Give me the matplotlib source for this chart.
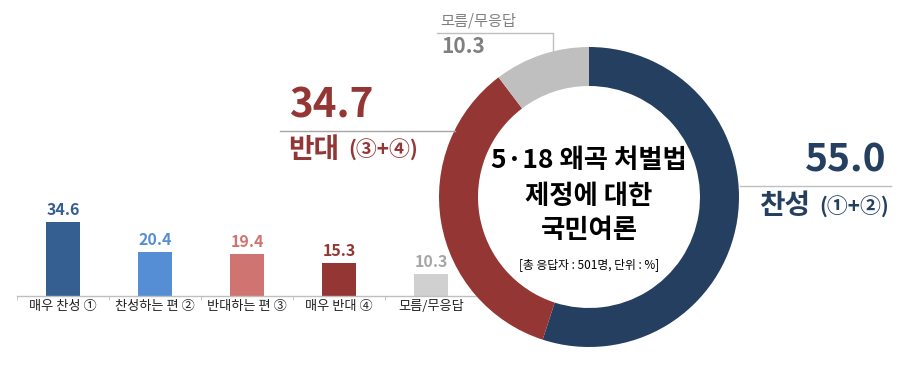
import matplotlib
matplotlib.use("Agg")
import matplotlib.pyplot as plt
from matplotlib.lines import Line2D

plt.rcParams['font.family'] = ['Noto Sans CJK KR', 'DejaVu Sans']

# data
bar_labels = ["매우 찬성 ①", "찬성하는 편 ②", "반대하는 편 ③", "매우 반대 ④", "모름/무응답"]
bar_values = [34.6, 20.4, 19.4, 15.3, 10.3]
bar_colors = ["#365f91", "#558ed5", "#d07472", "#943634", "#d0d0d0"]
label_colors = ["#365f91", "#558ed5", "#d07472", "#943634", "#a6a6a6"]

pie_labels = ["찬성", "반대", "모름/무응답"]
pie_values = [55.0, 34.7, 10.3]
pie_colors = ["#243f60", "#943634", "#bfbfbf"]

W, H = 900, 365
fig = plt.figure(figsize=(W / 100, H / 100), dpi=100)


def fx(px):
    return px / W


def fy(py):
    return (H - py) / H


# bar chart
ax = fig.add_axes([fx(17), fy(296), fx(460), 86 / H])
x = range(len(bar_values))
ax.bar(x, bar_values, width=0.38, color=bar_colors, zorder=2)
for i, v in enumerate(bar_values):
    ax.text(i, v + 1.8, f"{v}", ha="center", va="bottom", fontsize=11.5,
            color=label_colors[i], fontweight="bold")
ax.set_xlim(-0.5, 4.5)
ax.set_ylim(0, 40)
for s in ["top", "right", "left"]:
    ax.spines[s].set_visible(False)
ax.spines["bottom"].set_color("#bfbfbf")
ax.spines["bottom"].set_linewidth(1)
ax.set_yticks([])
ax.set_xticks(list(x))
ax.set_xticklabels(bar_labels, fontsize=9.5, color="#222222")
ax.tick_params(axis="x", which="major", length=0, pad=3)
ax.set_xticks([i - 0.5 for i in range(5)], minor=True)
ax.tick_params(axis="x", which="minor", length=3, color="#bfbfbf")

# donut
cx, cy, r = 589, 197, 150
pax = fig.add_axes([fx(cx - r), fy(cy + r), 2 * r / W, 2 * r / H])
pax.pie(pie_values, colors=pie_colors, startangle=90, counterclock=False,
        radius=1, wedgeprops=dict(width=0.26))
pax.set_xlim(-1, 1)
pax.set_ylim(-1, 1)
pax.axis("off")

# center text
for txt, py in [("5·18 왜곡 처벌법", 160), ("제정에 대한", 197), ("국민여론", 230)]:
    fig.text(fx(cx), fy(py), txt, ha="center", va="center", fontsize=19,
             fontweight="bold", color="black")
fig.text(fx(cx), fy(265), "[총 응답자 : 501명, 단위 : %]", ha="center", va="center",
         fontsize=8.5, color="black")

# annotation: 반대
fig.add_artist(Line2D([fx(280), fx(455)], [fy(131), fy(131)], color="#a6a6a6", lw=1))
fig.text(fx(289), fy(127), f"{pie_values[1]}", ha="left", va="bottom", fontsize=29,
         color="#943634", fontweight="bold")
fig.text(fx(288), fy(136), pie_labels[1], ha="left", va="top", fontsize=20,
         color="#943634", fontweight="bold")
fig.text(fx(348), fy(139), "(③+④)", ha="left", va="top", fontsize=15,
         color="#943634", fontweight="bold")

# annotation: 찬성
fig.add_artist(Line2D([fx(740), fx(891)], [fy(186), fy(186)], color="#bfbfbf", lw=1))
fig.text(fx(887), fy(180), f"{pie_values[0]:.1f}", ha="right", va="bottom", fontsize=28,
         color="#243f60", fontweight="bold")
fig.text(fx(759), fy(192), pie_labels[0], ha="left", va="top", fontsize=20,
         color="#243f60", fontweight="bold")
fig.text(fx(819), fy(196), "(①+②)", ha="left", va="top", fontsize=15,
         color="#243f60", fontweight="bold")

# annotation: 모름/무응답
fig.add_artist(Line2D([fx(437), fx(553), fx(553)], [fy(33), fy(33), fy(52)],
                      color="#bfbfbf", lw=1))
fig.text(fx(440), fy(30), pie_labels[2], ha="left", va="bottom", fontsize=11,
         color="#808080")
fig.text(fx(441), fy(36), f"{pie_values[2]}", ha="left", va="top", fontsize=15,
         color="#808080", fontweight="bold")

fig.savefig("out.png", dpi=100)
